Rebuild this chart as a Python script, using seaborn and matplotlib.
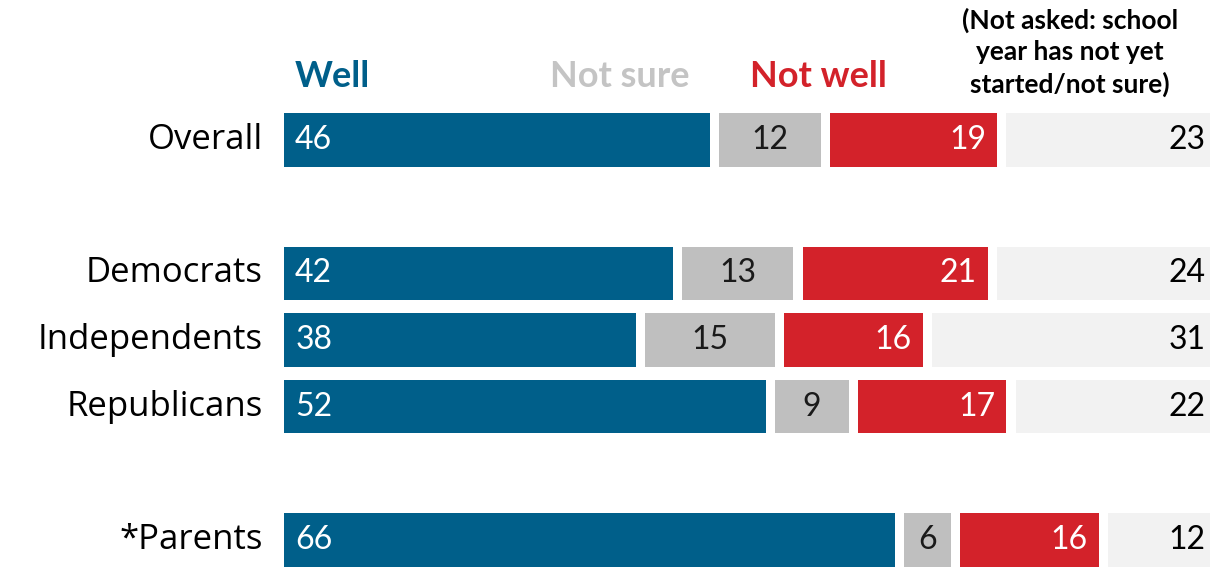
import matplotlib
matplotlib.use("Agg")
import matplotlib.pyplot as plt
import seaborn as sns
import pandas as pd
import numpy as np

# Survey results (percent)
groups = ["Overall", "Democrats", "Independents", "Republicans", "*Parents"]
well = [46, 42, 38, 52, 66]
not_sure = [12, 13, 15, 9, 6]
not_well = [19, 21, 16, 17, 16]
not_asked = [23, 24, 31, 22, 12]

# Row slots, with blank spacer rows between the blocks
slots = ["Overall", " ", "Democrats", "Independents", "Republicans", "  ", "*Parents"]

header_labels = ["Well", "Not sure", "Not well"]
note_label = "(Not asked: school\nyear has not yet\nstarted/not sure)"

BLUE = "#005f8a"
GREY = "#bfbfbf"
RED = "#d3222a"
LIGHT = "#f2f2f2"
HEAD_GREY = "#c4c4c4"

sns.set_theme(style="white")
plt.rcParams["font.family"] = ["Lato", "DejaVu Sans"]

fig = plt.figure(figsize=(12.1, 5.67), dpi=100)
ax = fig.add_axes([284 / 1210, 0, 926 / 1210, 1])

gap = 1.0  # white space between segments, in percent units
series = [well, not_sure, not_well, not_asked]
colors = [BLUE, GREY, RED, LIGHT]
cum = np.zeros(len(groups))
lefts_all = []
for i, (vals, col) in enumerate(zip(series, colors)):
    vals = np.array(vals, dtype=float)
    offset = 0 if i == 0 else gap
    left = cum + offset
    widths = vals - offset
    df = pd.DataFrame({"group": groups, "value": widths})
    sns.barplot(data=df, y="group", x="value", order=slots, color=col,
                saturation=1, left=left, width=0.8, ax=ax, linewidth=0,
                edgecolor="none")
    lefts_all.append((left, widths))
    cum = cum + vals

ax.set_xlim(0, 100)
ax.set_ylim(6.405, -2.1)
ax.axis("off")

pos = {g: slots.index(g) for g in groups}
val_fs = 23
for j, g in enumerate(groups):
    y = pos[g]
    # Well: left aligned, white
    l, w = lefts_all[0]
    ax.text(l[j] + 1.2, y, f"{well[j]}", color="white", fontsize=val_fs,
            ha="left", va="center")
    # Not sure: centered, dark
    l, w = lefts_all[1]
    ax.text(l[j] + w[j] / 2, y, f"{not_sure[j]}", color="#1a1a1a",
            fontsize=val_fs, ha="center", va="center")
    # Not well: right aligned, white
    l, w = lefts_all[2]
    ax.text(l[j] + w[j] - 1.2, y, f"{not_well[j]}", color="white",
            fontsize=val_fs, ha="right", va="center")
    # Not asked: right aligned, black
    l, w = lefts_all[3]
    ax.text(l[j] + w[j] - 0.5, y, f"{not_asked[j]}", color="black",
            fontsize=val_fs, ha="right", va="center")
    # Row label
    ax.text(-2.3, y, g, color="black", fontsize=25, ha="right", va="center",
            clip_on=False, family=["Open Sans", "DejaVu Sans"])

head_y = -0.95
ax.text(1.2, head_y, header_labels[0], color=BLUE, fontsize=26,
        fontweight="bold", ha="left", va="center")
ax.text(36.3, head_y, header_labels[1], color=HEAD_GREY, fontsize=26,
        fontweight="bold", ha="center", va="center")
ax.text(57.7, head_y, header_labels[2], color=RED, fontsize=26,
        fontweight="bold", ha="center", va="center")
ax.text(84.9, -1.32, note_label, color="black", fontsize=19,
        fontweight="bold", ha="center", va="center", linespacing=1.35)

fig.savefig("out.png", dpi=100)
